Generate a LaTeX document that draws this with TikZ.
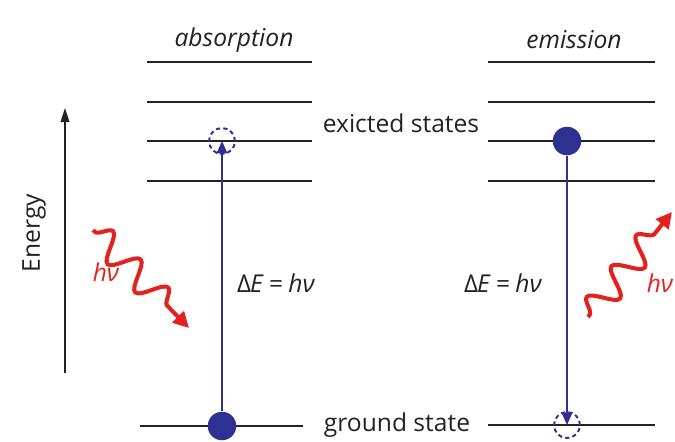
\documentclass[tikz,border=0pt]{standalone}
\usepackage{fontspec}
\setmainfont{Open Sans}
\usetikzlibrary{arrows.meta,decorations.pathmorphing}
\definecolor{LevBlue}{HTML}{2E3192}
\definecolor{LevInk}{HTML}{222222}
\definecolor{PhotonRed}{HTML}{E3211D}
\newcommand{\hnu}{\textit{hν}}
\newcommand{\dEhnu}{Δ\kern-0.5pt\textit{E}\kern3pt=\kern3pt\hnu}

\begin{document}
\begin{tikzpicture}[
  x=0.02cm, y=-0.02cm,
  level/.style={line width=1.1pt, draw=LevInk},
  electron/.style={circle, fill=LevBlue, minimum size=0.57cm, inner sep=0pt},
  vacancy/.style={circle, draw=LevBlue, dash pattern=on 2.4pt off 1.8pt, line width=1.1pt, minimum size=0.52cm, inner sep=0pt},
  transition/.style={-{Triangle[length=7pt,width=6pt]}, draw=LevBlue, line width=0.9pt},
  photon/.style={draw=PhotonRed, line width=2.3pt, -{Triangle[length=9pt,width=9pt]},
    decorate, decoration={snake, amplitude=0.27cm, segment length=0.79cm, pre length=0.05cm, post length=0.25cm}},
  caption/.style={font=\fontsize{14}{17}\selectfont\itshape, text=LevInk},
  tag/.style={font=\fontsize{14}{17}\selectfont, text=LevInk},
  relation/.style={font=\fontsize{14}{17}\selectfont, text=LevInk},
  photonlabel/.style={font=\fontsize{14}{17}\selectfont, text=PhotonRed}
]
\useasboundingbox (0,0) rectangle (675,441);
% energy levels
\foreach \y in {62,102,141,181} {
  \draw[level] (147,\y) -- (312,\y);
  \draw[level] (488,\y) -- (655,\y);
}
\draw[level] (140,426) -- (303,426);
\draw[level] (488,425) -- (655,425);
% captions
\node[caption] (absorb) at (234,40) {absorption};
\node[caption] (emit) at (574,40) {emission};
\node[tag] (excited) at (401,123) {exicted states};
\node[tag] (ground) at (397,425) {ground state};
\node[tag, rotate=90] (energy) at (34,233) {Energy};
% energy axis
\coordinate (ebot) at (65,373);
\coordinate (etop) at (65,108);
\draw[-{Triangle[length=8pt,width=5pt]}, line width=0.8pt, draw=LevInk] (ebot) -- (etop);
% absorption
\node[electron] (gA) at (222,426) {};
\node[vacancy] (vA) at (222,141) {};
\draw[transition] (gA) -- (vA.center);
\node[relation] (dEA) at (276,283) {\dEhnu};
\coordinate (pA0) at (93,230);
\coordinate (pA1) at (189,328);
\draw[photon] (pA0) -- (pA1);
\node[photonlabel] (hvA) at (106,272) {\hnu};
% emission
\node[electron] (eB) at (567,141) {};
\node[vacancy] (vB) at (567,425) {};
\draw[transition] (eB) -- (vB.center);
\node[relation] (dEB) at (503,283) {\dEhnu};
\coordinate (pB0) at (588,317);
\coordinate (pB1) at (672,212);
\draw[photon] (pB0) -- (pB1);
\node[photonlabel] (hvB) at (660,283) {\hnu};
\end{tikzpicture}
\end{document}
